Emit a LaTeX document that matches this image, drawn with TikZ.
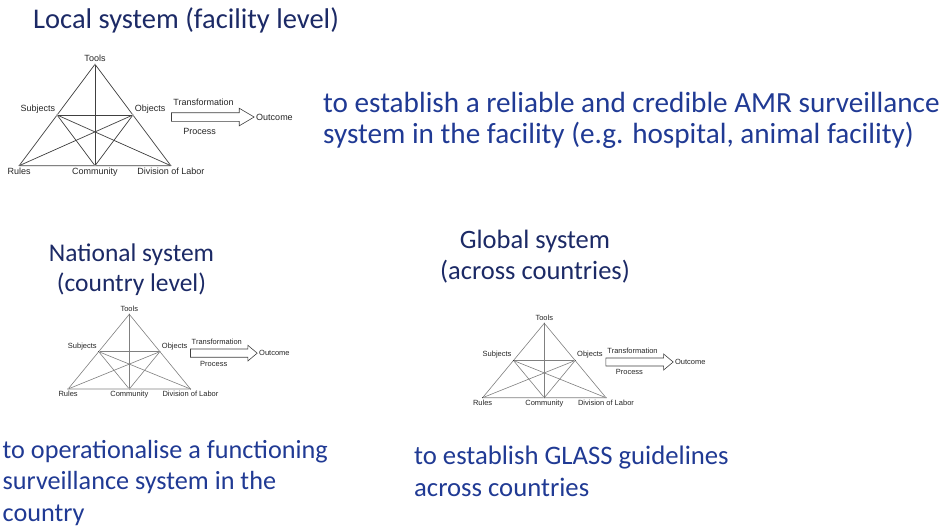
\documentclass[tikz,border=0pt]{standalone}
\usepackage{fontspec}
\setmainfont{Carlito}
\newfontfamily\labfont{Liberation Sans}
\usetikzlibrary{positioning,shapes.arrows}
\definecolor{navy}{HTML}{1C2A66}
\definecolor{goalblue}{HTML}{203A94}

\tikzset{
  vdot/.style={circle, fill=black!80, inner sep=0.45pt},
  lab/.style={text=black!85, inner sep=0.8pt},
  bigarrow/.style={draw=black!75, fill=white, single arrow, inner xsep=0pt, line width=0.6pt},
  heading/.style={text=navy, font=\fontsize{#1}{30.5}\selectfont, inner sep=0pt, align=center},
  heading/.default=26,
  goal/.style={text=goalblue, font=\fontsize{#1}{31.5}\selectfont, inner sep=0pt, align=left},
  goal/.default=26,
}

% activity triangle: prefix, community point, half width, height, label size, line style, arrow style
\newcommand{\actsys}[7]{%
\begin{scope}[shift={#2}, x=#3pt, y=#4pt, lab/.append style={font=\labfont\fontsize{#5}{#5}\selectfont},
  every label/.style={lab}, label distance=0.6pt]
\node[vdot, label=above:Tools] (#1t) at (0,1) {};
\node[vdot, label=above left:Subjects] (#1s) at (-0.5,0.5) {};
\node[vdot, label=above right:Objects] (#1o) at (0.5,0.5) {};
\node[vdot, label=below:Rules] (#1r) at (-1,0) {};
\node[vdot, label=below:Community] (#1c) at (0,0) {};
\node[vdot, label=below:Division of Labor] (#1d) at (1,0) {};
\draw[#6] (#1t) -- (#1s) -- (#1r) -- (#1c) -- (#1d) -- (#1o) -- (#1t);
\draw[#6] (#1t) -- (#1c);
\draw[#6] (#1s) -- (#1o);
\draw[#6] (#1s) -- (#1c) -- (#1o);
\draw[#6] (#1s) -- (#1d);
\draw[#6] (#1o) -- (#1r);
\node[bigarrow, minimum height={1.09*#3pt}, #7] (#1arr) at (1.505,0.48) {};
\node[lab] (#1tr) at (1.43,0.63) {Transformation};
\node[lab] (#1pr) at (1.38,0.34) {Process};
\node[lab, right=0.5pt of #1arr] (#1out) {Outcome};
\end{scope}}

\begin{document}
\begin{tikzpicture}[x=1pt, y=-1pt]
\useasboundingbox[fill=white] (0,0) rectangle (946,530);

% local level
\node[heading=28.5, anchor=base west] (local) at (33,28) {Local system (facility level)};
\actsys{a}{(95pt,-165.7pt)}{75.85}{101.4}{9}{black!75, line width=0.7pt}
  {inner ysep=4pt, single arrow head extend=4.5pt, single arrow tip angle=61}
\node[goal=29.2, anchor=base west] (goala) at (323,143.5)
  {to establish a reliable and credible AMR surveillance\\system in the facility (e.g. hospital, animal facility)};

% national level
\node[heading=25.5, anchor=base] (national) at (131.5,291.5) {National system\\(country level)};
\actsys{b}{(129.3pt,-389pt)}{61.2}{74.7}{7.5}{black!50, line width=0.6pt}
  {inner ysep=3.8pt, single arrow head extend=3.7pt, single arrow tip angle=80}
\node[goal=26.2, anchor=base west] (goalb) at (2.5,521)
  {to operationalise a functioning\\surveillance system in the\\country};

% global level
\node[heading=26.5, anchor=base] (global) at (535,279) {Global system\\(across countries)};
\actsys{c}{(544.3pt,-397.7pt)}{61.7}{74.4}{7.5}{black!50, line width=0.6pt}
  {inner ysep=3.7pt, single arrow head extend=4pt, single arrow tip angle=80}
\node[goal=26.7, anchor=base west] (goalc) at (414,496)
  {to establish GLASS guidelines\\across countries};
\end{tikzpicture}
\end{document}
